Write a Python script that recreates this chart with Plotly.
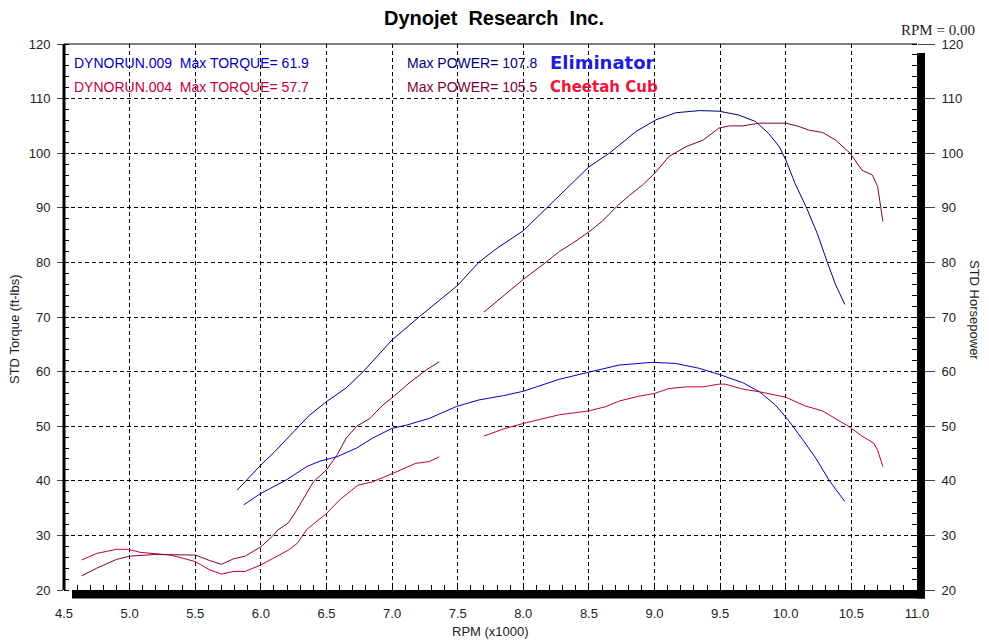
import plotly.graph_objects as go

# DYNORUN.009 (Eliminator) - blue
rpm_009_hp = [5.82, 6.0, 6.1, 6.27, 6.37, 6.5, 6.65, 6.78, 7.0, 7.21, 7.35, 7.5, 7.66, 7.8, 8.0, 8.18,
              8.275, 8.375, 8.5, 8.655, 8.76, 8.86, 9.01, 9.16, 9.34, 9.49, 9.64, 9.77, 9.87, 9.95,
              10.0, 10.07, 10.16, 10.24, 10.32, 10.38, 10.45]
hp_009 = [38.3, 42.9, 45.2, 49.6, 52.0, 54.5, 57.0, 60.0, 65.8, 70.1, 72.8, 75.8, 80.0, 82.6, 85.8, 90.0,
          92.3, 94.5, 97.5, 100.0, 102.0, 104.0, 106.1, 107.4, 107.8, 107.7, 107.0, 105.8, 103.6, 101.2,
          98.8, 94.5, 89.9, 85.3, 79.8, 75.9, 72.3]
rpm_009_tq = [5.87, 6.0, 6.19, 6.35, 6.45, 6.58, 6.73, 6.85, 7.0, 7.11, 7.28, 7.49, 7.66, 7.85, 8.0,
              8.275, 8.5, 8.73, 8.985, 9.16, 9.34, 9.49, 9.67, 9.8, 9.92, 10.02, 10.13, 10.23, 10.33, 10.45]
tq_009 = [35.6, 37.7, 40.1, 42.6, 43.6, 44.4, 46.0, 47.8, 49.6, 50.2, 51.4, 53.6, 54.8, 55.6, 56.4,
          58.6, 59.9, 61.2, 61.7, 61.5, 60.6, 59.5, 58.0, 56.3, 53.9, 51.1, 47.5, 44.1, 40.1, 36.2]

# DYNORUN.004 (Cheetah Cub) - red, with a gap in the data
rpm_004_hp = [4.635, 4.75, 4.9, 5.0, 5.19, 5.38, 5.5, 5.61, 5.7, 5.79, 5.88, 6.0, 6.09, 6.13, 6.21, 6.27,
              6.4, 6.5, 6.58, 6.65, 6.73, 6.83, 6.93, 7.01, 7.13, 7.26, 7.36, None,
              7.7, 7.85, 8.0, 8.15, 8.275, 8.375, 8.5, 8.6, 8.71, 8.81, 8.91, 9.0, 9.11, 9.24, 9.37,
              9.49, 9.57, 9.67, 9.8, 10.0, 10.1, 10.18, 10.28, 10.38, 10.49, 10.58, 10.66, 10.7, 10.74]
hp_004 = [22.6, 24.0, 25.6, 26.2, 26.5, 26.4, 26.4, 25.4, 24.7, 25.7, 26.2, 27.9, 29.9, 31.0, 32.3, 34.5,
          39.8, 42.0, 44.7, 47.8, 50.0, 51.4, 53.9, 55.4, 57.9, 60.3, 61.8, None,
          70.9, 73.9, 76.9, 79.6, 82.0, 83.5, 85.6, 87.5, 90.2, 92.3, 94.2, 96.3, 99.4, 101.2, 102.4,
          104.6, 105.0, 105.0, 105.5, 105.5, 104.9, 104.2, 103.8, 102.4, 100.0, 96.9, 96.0, 93.9, 87.5]
rpm_004_tq = [4.635, 4.75, 4.9, 4.99, 5.08, 5.19, 5.31, 5.41, 5.5, 5.61, 5.7, 5.79, 5.88, 6.0, 6.09, 6.21,
              6.28, 6.35, 6.5, 6.6, 6.74, 6.85, 7.01, 7.18, 7.28, 7.36, None,
              7.7, 7.85, 8.0, 8.15, 8.275, 8.5, 8.63, 8.73, 8.88, 9.0, 9.11, 9.24, 9.37, 9.49, 9.54,
              9.67, 9.8, 10.0, 10.15, 10.28, 10.38, 10.49, 10.58, 10.67, 10.7, 10.74]
tq_004 = [25.5, 26.7, 27.45, 27.45, 26.9, 26.7, 26.4, 25.8, 25.2, 23.7, 22.9, 23.4, 23.4, 24.6, 25.8, 27.3,
          28.6, 31.1, 34.0, 36.5, 39.2, 39.8, 41.4, 43.2, 43.5, 44.4, None,
          48.2, 49.5, 50.5, 51.3, 52.1, 52.8, 53.6, 54.6, 55.5, 56.0, 56.9, 57.2, 57.2, 57.7, 57.7,
          56.8, 56.3, 55.3, 53.7, 52.8, 51.4, 49.8, 48.2, 46.9, 45.6, 42.6]

x_ticks = [4.5, 5.0, 5.5, 6.0, 6.5, 7.0, 7.5, 8.0, 8.5, 9.0, 9.5, 10.0, 10.5, 11.0]
y_ticks = [20, 30, 40, 50, 60, 70, 80, 90, 100, 110, 120]

# page has an 8px body margin, so the figure is 8px smaller than the window
OFF = 8
W, H = 989 - OFF, 643 - OFF
L, R, T, B = 64 - OFF, 72, 44 - OFF, 53
pw = W - L - R
ph = H - T - B


def px_x(x):
    # window pixel -> paper coordinate
    return (x - OFF - L) / pw


def px_y(y):
    return (H - B - (y - OFF)) / ph


fig = go.Figure()
fig.add_trace(go.Scatter(x=rpm_009_tq, y=tq_009, mode="lines", line=dict(color="#0000C0", width=1),
                         name="DYNORUN.009 torque"))
fig.add_trace(go.Scatter(x=rpm_004_tq, y=tq_004, mode="lines", line=dict(color="#C00038", width=1),
                         name="DYNORUN.004 torque", connectgaps=False))
fig.add_trace(go.Scatter(x=rpm_009_hp, y=hp_009, mode="lines", line=dict(color="#000080", width=1),
                         name="DYNORUN.009 power", yaxis="y2"))
fig.add_trace(go.Scatter(x=rpm_004_hp, y=hp_004, mode="lines", line=dict(color="#800038", width=1),
                         name="DYNORUN.004 power", yaxis="y2", connectgaps=False))

tickfont = dict(family="Liberation Sans, Arial", size=13, color="#222")
fig.update_layout(
    width=W, height=H,
    margin=dict(l=L, r=R, t=T, b=B, autoexpand=False),
    paper_bgcolor="white", plot_bgcolor="white",
    showlegend=False,
    title=dict(text="<b>Dynojet  Research  Inc.</b>", x=(494 - OFF) / W, xanchor="center",
               y=0.995, yanchor="top", automargin=False, pad=dict(t=0),
               font=dict(family="Liberation Sans Narrow, Arial Narrow, Liberation Sans", size=20, color="black")),
    xaxis=dict(range=[4.5, 11.0], tickvals=x_ticks, ticktext=["%.1f" % v for v in x_ticks],
               showgrid=True, gridcolor="black", gridwidth=1, griddash="4px,3px", automargin=False,
               zeroline=False, showline=False, ticks="", ticklabelstandoff=14, tickfont=tickfont,
               minor=dict(dtick=0.1, tick0=4.5, ticks="inside", ticklen=5, tickcolor="black", showgrid=False)),
    yaxis=dict(range=[20, 120], tickvals=y_ticks, showgrid=True, gridcolor="black", gridwidth=1,
               griddash="4px,3px", zeroline=False, showline=False, automargin=False,
               ticks="outside", ticklen=6, tickcolor="#444", tickfont=tickfont, ticklabelstandoff=4,
               minor=dict(dtick=2, tick0=20, ticks="inside", ticklen=5, tickcolor="black", showgrid=False)),
    yaxis2=dict(range=[20, 120], tickvals=y_ticks, overlaying="y", side="right", showgrid=False,
                zeroline=False, showline=False, ticks="outside", ticklen=17, tickcolor="#444",
                tickfont=tickfont, automargin=False, ticklabelstandoff=4,
                minor=dict(dtick=2, tick0=20, ticks="inside", ticklen=5, tickcolor="black", showgrid=False)),
)

# frame: thin top, thick left, shadow bars right and bottom
fig.add_shape(type="line", xref="paper", yref="paper", x0=0, x1=1, y0=1, y1=1,
              line=dict(color="black", width=1), layer="above")
fig.add_shape(type="line", xref="paper", yref="paper", x0=0, x1=0, y0=0, y1=1,
              line=dict(color="black", width=3), layer="above")
fig.add_shape(type="rect", xref="paper", yref="paper", x0=1, x1=px_x(925), y0=px_y(598.5), y1=px_y(53),
              fillcolor="black", line=dict(width=0), layer="above")
fig.add_shape(type="rect", xref="paper", yref="paper", x0=px_x(72), x1=px_x(925), y0=px_y(598.5), y1=0,
              fillcolor="black", line=dict(width=0), layer="above")

lab = dict(family="Liberation Sans, Arial", size=14)
notes = [
    ("DYNORUN.009  Max TORQUE= 61.9", 72, 63, "#0000C0", lab),
    ("DYNORUN.004  Max TORQUE= 57.7", 72, 87, "#C00038", lab),
    ("Max POWER= 107.8", 405, 63, "#000080", lab),
    ("Max POWER= 105.5", 405, 87, "#800038", lab),
    ("<b>Eliminator</b>", 548, 63, "#1E1ED8", dict(family="DejaVu Sans", size=18)),
    ("<b>Cheetah Cub</b>", 548, 87, "#F0143C", dict(family="DejaVu Sans", size=15)),
]
for txt, x, y, col, f in notes:
    fig.add_annotation(text=txt, xref="paper", yref="paper", x=px_x(x), y=px_y(y),
                       xanchor="left", yanchor="middle", showarrow=False,
                       font=dict(color=col, **f))

fig.add_annotation(text="RPM = 0.00", xref="paper", yref="paper", x=px_x(977), y=px_y(30),
                   xanchor="right", yanchor="middle", showarrow=False,
                   font=dict(family="Liberation Serif, Times New Roman", size=15, color="#222"))
fig.add_annotation(text="STD Torque (ft-lbs)", xref="paper", yref="paper", x=px_x(15), y=px_y(329),
                   textangle=-90, xanchor="center", yanchor="middle", showarrow=False,
                   font=dict(family="Liberation Sans, Arial", size=13, color="#222"))
fig.add_annotation(text="STD Horsepower", xref="paper", yref="paper", x=px_x(975), y=px_y(310),
                   textangle=90, xanchor="center", yanchor="middle", showarrow=False,
                   font=dict(family="Liberation Sans, Arial", size=13, color="#222"))
fig.add_annotation(text="RPM (x1000)", xref="paper", yref="paper", x=px_x(490), y=px_y(631),
                   xanchor="center", yanchor="middle", showarrow=False,
                   font=dict(family="Liberation Sans, Arial", size=13, color="#222"))

fig.write_html("out.html")
